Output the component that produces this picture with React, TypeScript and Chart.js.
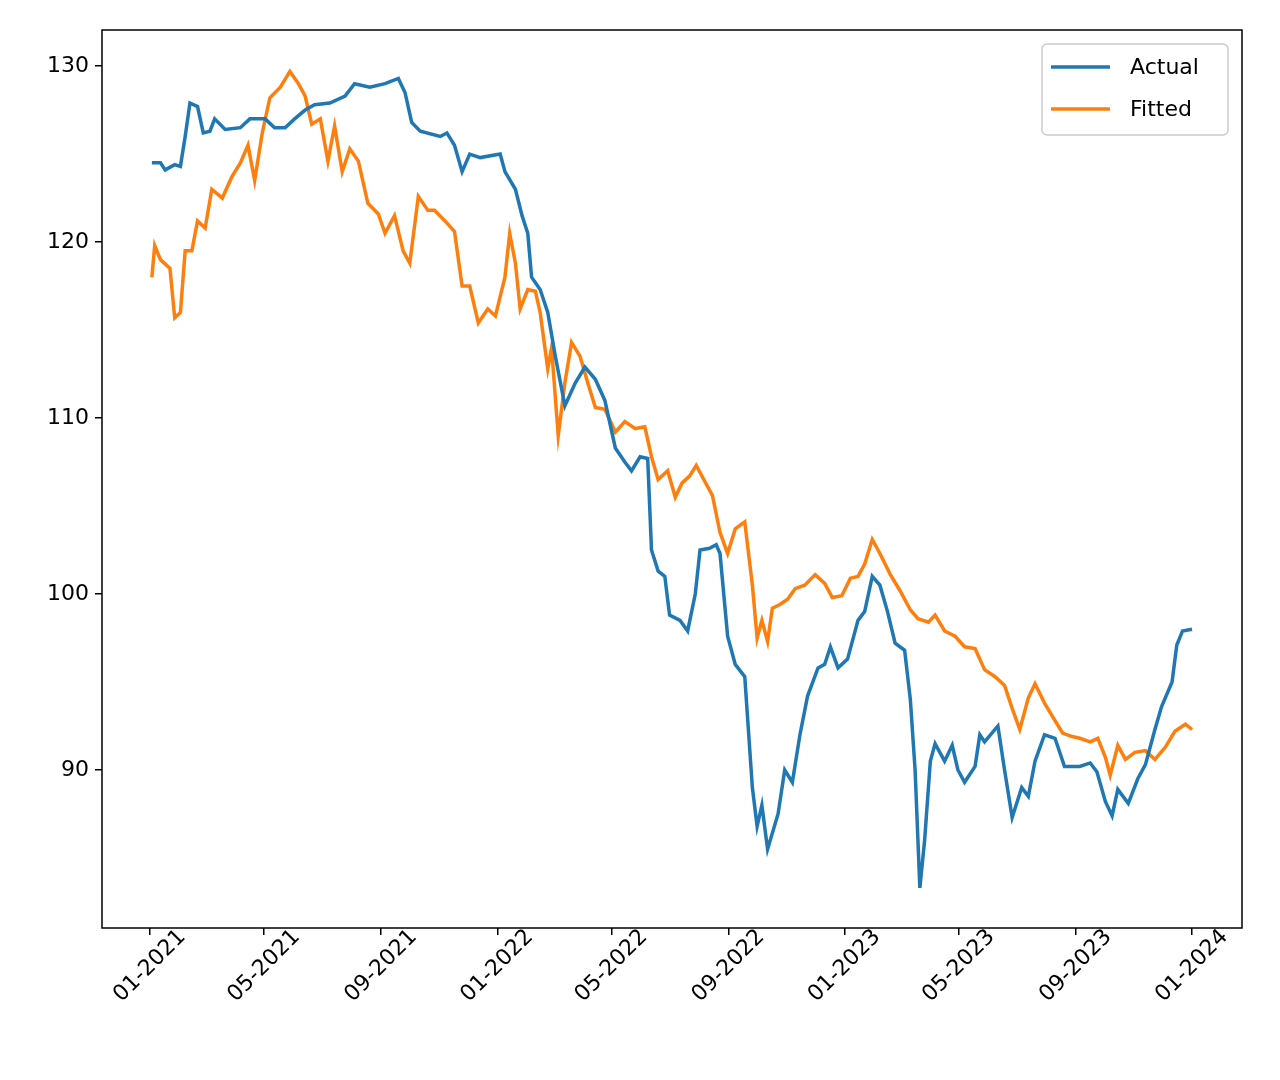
import React, { useEffect, useRef } from "react";
import { Chart, registerables } from "chart.js";
Chart.register(...registerables);

// days since 2021-01-01
const actualDays = [2,11,16,26,32,37,42,50,56,63,68,79,95,105,121,131,142,152,163,173,189,205,215,231,247,261,268,275,284,305,312,320,328,336,347,368,373,384,391,397,401,410,418,426,436,447,457,468,478,489,499,506,515,523,527,534,541,546,557,565,573,578,588,595,599,607,615,625,633,638,643,649,660,667,675,683,691,702,709,715,723,733,744,751,759,767,775,783,793,799,804,809,814,820,825,835,843,849,856,867,872,877,891,898,906,916,923,930,940,951,961,977,988,995,1004,1011,1017,1028,1038,1046,1056,1063,1074,1079,1085,1095];
const actualValues = [124.5,124.5,124.1,124.4,124.3,126,127.9,127.7,126.2,126.3,127,126.4,126.5,127,127,126.5,126.5,127,127.5,127.8,127.9,128.3,129,128.8,129,129.3,128.5,126.8,126.3,126,126.2,125.5,124,125,124.8,125,124,123,121.5,120.5,118,117.3,116,113.5,110.7,112,112.9,112.2,111,108.3,107.5,107,107.8,107.7,102.5,101.3,101,98.8,98.5,97.9,100,102.5,102.6,102.8,102.3,97.6,96,95.3,89,86.8,88,85.5,87.5,90,89.3,92,94.2,95.8,96,97,95.8,96.3,98.5,99,101,100.5,99,97.2,96.8,94,90,83.3,86,90.5,91.5,90.5,91.4,90,89.3,90.2,92,91.6,92.5,90,87.3,89,88.5,90.5,92,91.8,90.2,90.2,90.4,89.9,88.2,87.4,88.9,88.1,89.5,90.3,92.3,93.6,95,97.1,97.9,98];
const fittedDays = [2,5,11,21,26,32,37,44,50,58,65,76,86,95,103,110,118,126,137,147,156,163,170,179,187,194,202,210,219,229,240,247,257,266,273,282,292,299,310,320,328,336,345,355,363,373,378,384,389,397,405,410,418,422,429,436,443,452,460,468,478,489,499,510,520,527,534,544,552,559,567,574,583,591,599,607,615,625,633,638,643,649,654,662,670,678,688,699,709,717,727,736,744,751,759,767,778,788,799,807,818,825,835,846,856,867,877,888,898,906,914,923,930,940,951,959,969,977,988,996,1004,1009,1017,1025,1035,1046,1056,1067,1077,1088,1095];
const fittedValues = [118,119.8,119,118.5,115.7,116,119.5,119.5,121.2,120.8,123,122.5,123.7,124.5,125.5,123.5,126.2,128.2,128.8,129.7,129,128.3,126.7,127,124.6,126.6,124,125.3,124.6,122.2,121.6,120.5,121.5,119.5,118.8,122.6,121.8,121.8,121.2,120.6,117.5,117.5,115.4,116.2,115.8,118,120.5,118.8,116.2,117.3,117.2,116,112.8,114,109,112,114.3,113.5,112,110.6,110.5,109.2,109.8,109.4,109.5,107.8,106.5,107,105.5,106.3,106.7,107.3,106.4,105.6,103.5,102.3,103.7,104.1,100.5,97.5,98.5,97.3,99.2,99.4,99.7,100.3,100.5,101.1,100.6,99.8,99.9,100.9,101,101.7,103.1,102.3,101.1,100.2,99.1,98.6,98.4,98.8,97.9,97.6,97,96.9,95.7,95.3,94.8,93.5,92.3,94.1,94.9,93.8,92.8,92.1,91.9,91.8,91.6,91.8,90.7,89.7,91.4,90.6,91,91.1,90.6,91.3,92.2,92.6,92.3];
const xTickDays = [0,120,243,365,485,608,730,850,973,1095];
const xTickLabels = ["01-2021","05-2021","09-2021","01-2022","05-2022","09-2022","01-2023","05-2023","09-2023","01-2024"];
const yTicks = [90,100,110,120,130];
const seriesNames = ["Actual","Fitted"];
const colors = ["#1f77b4","#ff7f0e"];

const FONT = "22px 'DejaVu Sans'";

export default function App() {
  const ref = useRef<HTMLCanvasElement>(null);
  useEffect(() => {
    const overlay = {
      id: "overlay",
      afterDraw(chart: any) {
        const ctx = chart.ctx;
        const xs = chart.scales.x;
        const ca = chart.chartArea;
        ctx.save();
        ctx.font = FONT;
        ctx.fillStyle = "#000";
        xTickLabels.forEach((l, i) => {
          const px = xs.getPixelForValue(xTickDays[i]);
          ctx.save();
          ctx.translate(px, ca.bottom + 38);
          ctx.rotate(-Math.PI / 4);
          ctx.textAlign = "center";
          ctx.textBaseline = "middle";
          ctx.fillText(l, 0, 0);
          ctx.restore();
        });
        const lx = ca.right - 200, ly = ca.top + 14, lw = 186, lh = 91;
        ctx.fillStyle = "rgba(255,255,255,0.8)";
        ctx.strokeStyle = "#ccc";
        ctx.lineWidth = 1.5;
        ctx.beginPath();
        ctx.roundRect(lx, ly, lw, lh, 5);
        ctx.fill();
        ctx.stroke();
        seriesNames.forEach((n, i) => {
          const y = ly + 23 + i * 42;
          ctx.strokeStyle = colors[i];
          ctx.lineWidth = 3.5;
          ctx.beginPath();
          ctx.moveTo(lx + 9, y);
          ctx.lineTo(lx + 68, y);
          ctx.stroke();
          ctx.fillStyle = "#000";
          ctx.textAlign = "left";
          ctx.textBaseline = "middle";
          ctx.fillText(n, lx + 88, y + 1);
        });
        ctx.strokeStyle = "#000";
        ctx.lineWidth = 1.5;
        ctx.strokeRect(ca.left, ca.top, ca.right - ca.left, ca.bottom - ca.top);
        ctx.restore();
      },
    };
    const mk = (d: number[], v: number[]) => d.map((x, i) => ({ x, y: v[i] }));
    const chart = new Chart(ref.current!, {
      type: "line",
      data: {
        datasets: [
          { label: seriesNames[0], data: mk(actualDays, actualValues), borderColor: colors[0], borderWidth: 3.5, pointRadius: 0, tension: 0 },
          { label: seriesNames[1], data: mk(fittedDays, fittedValues), borderColor: colors[1], borderWidth: 3.5, pointRadius: 0, tension: 0 },
        ],
      },
      options: {
        animation: false,
        responsive: false,
        layout: { padding: { left: 0, right: 38, top: 30, bottom: 0 } },
        plugins: { legend: { display: false }, tooltip: { enabled: false } },
        scales: {
          x: {
            type: "linear",
            min: -50.4,
            max: 1147.5,
            afterBuildTicks: (s: any) => { s.ticks = xTickDays.map((v) => ({ value: v })); },
            afterFit: (s: any) => { s.height = 152; },
            ticks: { display: false },
            grid: { display: true, drawOnChartArea: false, drawTicks: true, tickLength: 7, color: "#000", lineWidth: 1.5 },
            border: { display: false },
          },
          y: {
            min: 81.02,
            max: 132.05,
            afterBuildTicks: (s: any) => { s.ticks = yTicks.map((v) => ({ value: v })); },
            afterFit: (s: any) => { s.width = 102; },
            ticks: { color: "#000", font: { family: "'DejaVu Sans'", size: 22 }, padding: 6 },
            grid: { display: true, drawOnChartArea: false, drawTicks: true, tickLength: 7, color: "#000", lineWidth: 1.5 },
            border: { display: false },
          },
        },
      },
      plugins: [overlay],
    } as any);
    return () => chart.destroy();
  }, []);
  return (
    <div style={{ position: "fixed", left: 0, top: 0, width: 1280, height: 1080, background: "#fff" }}>
      <canvas ref={ref} width={1280} height={1080} style={{ width: 1280, height: 1080 }} />
    </div>
  );
}
